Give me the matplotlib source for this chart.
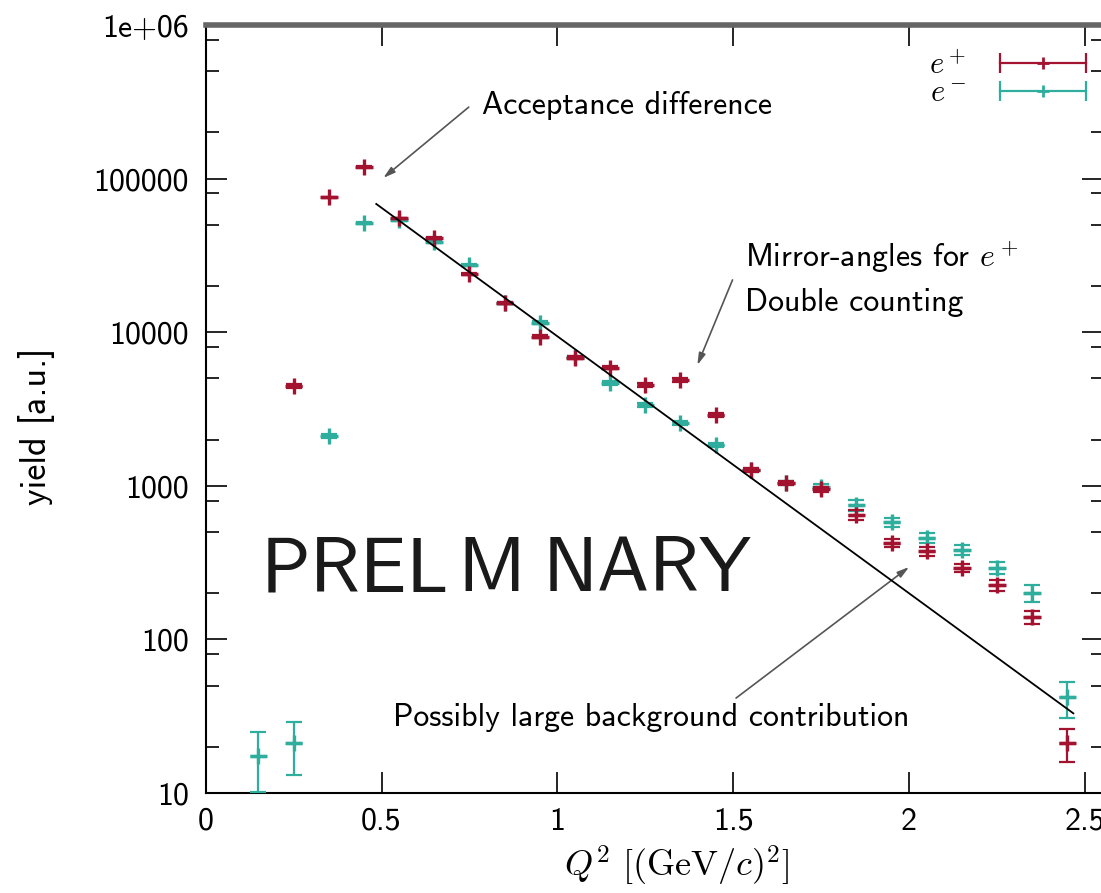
import matplotlib
matplotlib.use('Agg')
import matplotlib.pyplot as plt
from matplotlib.lines import Line2D
from matplotlib.legend_handler import HandlerLine2D
from matplotlib.ticker import FixedLocator, FixedFormatter, NullFormatter

plt.rcParams['font.family'] = ['cmss10', 'DejaVu Sans']
plt.rcParams['mathtext.fontset'] = 'cm'
plt.rcParams['axes.unicode_minus'] = False

nan = float('nan')

# Q^2 bin centres
q2 = [0.15, 0.25, 0.35, 0.45, 0.55, 0.65, 0.75, 0.85, 0.95, 1.05, 1.15, 1.25,
      1.35, 1.45, 1.55, 1.65, 1.75, 1.85, 1.95, 2.05, 2.15, 2.25, 2.35, 2.45]
q2_half_width = 0.025

# e+ yield (first bin below the plotted range)
yield_pos = [nan, 4470, 75500, 119700, 55000, 41200, 23900, 15500, 9360, 6800, 5850, 4530,
             4890, 2890, 1270, 1040, 950, 646, 424, 375, 292, 225, 140, 21]
err_pos = [0, 120, 900, 1200, 700, 600, 400, 300, 200, 150, 130, 110,
           120, 80, 40, 35, 35, 45, 25, 25, 18, 18, 14, 5]

# e- yield
yield_neg = [17.5, 21, 2110, 51600, 53700, 38800, 27400, 15500, 11500, 6900, 4670, 3360,
             2570, 1845, 1270, 1042, 985, 750, 581, 457, 382, 292, 200, 42]
err_neg = [7.3, 8, 70, 700, 700, 600, 450, 300, 250, 150, 120, 100,
           80, 60, 40, 35, 35, 60, 40, 35, 30, 25, 25, 11]

# straight reference line (two end points)
fit_x = [0.485, 2.467]
fit_y = [68400, 33]

y_ticks = [10, 100, 1000, 10000, 100000, 1000000]
y_tick_labels = ['10', '100', '1000', '10000', '100000', '1e+06']
x_ticks = [0, 0.5, 1, 1.5, 2, 2.5]
x_tick_labels = ['0', '0.5', '1', '1.5', '2', '2.5']

red = '#a3122e'
teal = '#2fae9e'

fig = plt.figure(figsize=(11.01, 8.93), dpi=100)
ax = fig.add_axes([0.1868, 0.112, 0.8146, 0.860])
ax.set_yscale('log')
ax.set_xlim(0, 2.55)
ax.set_ylim(10, 1e6)

for x_vals, y_vals, errs, col, z in [(q2, yield_neg, err_neg, teal, 3),
                                     (q2, yield_pos, err_pos, red, 4)]:
    ax.errorbar(x_vals, y_vals, yerr=errs, fmt='none', ecolor=col, elinewidth=1.6,
                capsize=6, capthick=1.6, zorder=z)
    ax.errorbar(x_vals, y_vals, xerr=q2_half_width, fmt='none', ecolor=col,
                elinewidth=2.4, capsize=0, zorder=z)
    ax.plot(x_vals, y_vals, ls='none', marker='+', ms=12, mew=2.4, color=col, zorder=z)

ax.plot(fit_x, fit_y, color='black', lw=1.3, zorder=5)

# annotations
arrow = dict(arrowstyle='-|>,head_length=0.7,head_width=0.2', color='#555555', lw=1.2,
             shrinkA=0, shrinkB=0)
ax.annotate('', xy=(0.505, 101000), xytext=(0.748, 292000), arrowprops=arrow)
ax.text(0.785, 301000, 'Acceptance difference', fontsize=23, va='center', ha='left')

ax.annotate('', xy=(1.398, 6110), xytext=(1.498, 21900), arrowprops=arrow)
ax.text(1.533, 30900, r'Mirror-angles for $e^+$', fontsize=23, va='center', ha='left')
ax.text(1.533, 15700, 'Double counting', fontsize=23, va='center', ha='left')

ax.annotate('', xy=(2.0, 296), xytext=(1.508, 41.5), arrowprops=arrow)
ax.text(0.532, 30.8, 'Possibly large background contribution', fontsize=23,
        va='center', ha='left')

# watermark, as it shows in the picture
for wx, word in [(0.155, 'PREL'), (0.715, 'M'), (0.959, 'NARY')]:
    ax.text(wx, 275, word, fontsize=56, va='center', ha='left', color='#1a1a1a')

# axes styling
ax.yaxis.set_major_locator(FixedLocator(y_ticks))
ax.yaxis.set_major_formatter(FixedFormatter(y_tick_labels))
minor = [m * 10 ** e for e in range(1, 6) for m in (2, 5, 8)]
ax.yaxis.set_minor_locator(FixedLocator(minor))
ax.yaxis.set_minor_formatter(NullFormatter())
ax.xaxis.set_major_locator(FixedLocator(x_ticks))
ax.xaxis.set_major_formatter(FixedFormatter(x_tick_labels))

ax.tick_params(which='both', direction='in', top=True, right=True, labelsize=23)
ax.tick_params(which='major', length=15, width=1.2)
ax.tick_params(which='minor', length=9, width=1.2)
ax.tick_params(axis='y', pad=12)
ax.tick_params(axis='x', pad=10)

for side in ['left', 'bottom', 'right']:
    ax.spines[side].set_linewidth(1.5)
ax.spines['top'].set_linewidth(4)
ax.spines['top'].set_color('#666666')

ax.set_ylabel('yield [a.u.]', fontsize=26)
ax.yaxis.set_label_coords(-0.168, 0.477)
ax.set_xlabel(r'$Q^2\ [(\mathrm{GeV}/c)^2]$', fontsize=26)
ax.xaxis.set_label_coords(0.5255, -0.066)

# legend in gnuplot style: label first, error-bar sample after
handles = []
hmap = {}
for col in (red, teal):
    bar = Line2D([], [], color=col, lw=1.6, marker='|', ms=14, mew=1.6)
    dot = Line2D([], [], color=col, lw=0, marker='+', ms=8, mew=2)
    hmap[bar] = HandlerLine2D(numpoints=2, marker_pad=0)
    hmap[dot] = HandlerLine2D(numpoints=1)
    handles.append((bar, dot))
fig.legend(handles, [r'$e^+$', r'$e^-$'], handler_map=hmap, markerfirst=False,
           frameon=False, fontsize=22, handlelength=2.8, handletextpad=1.1,
           labelspacing=0.0, borderpad=0, borderaxespad=0,
           loc='upper right', bbox_to_anchor=(1086 / 1101, (893 - 51) / 893),
           bbox_transform=fig.transFigure)

fig.savefig('out.png', dpi=100)
